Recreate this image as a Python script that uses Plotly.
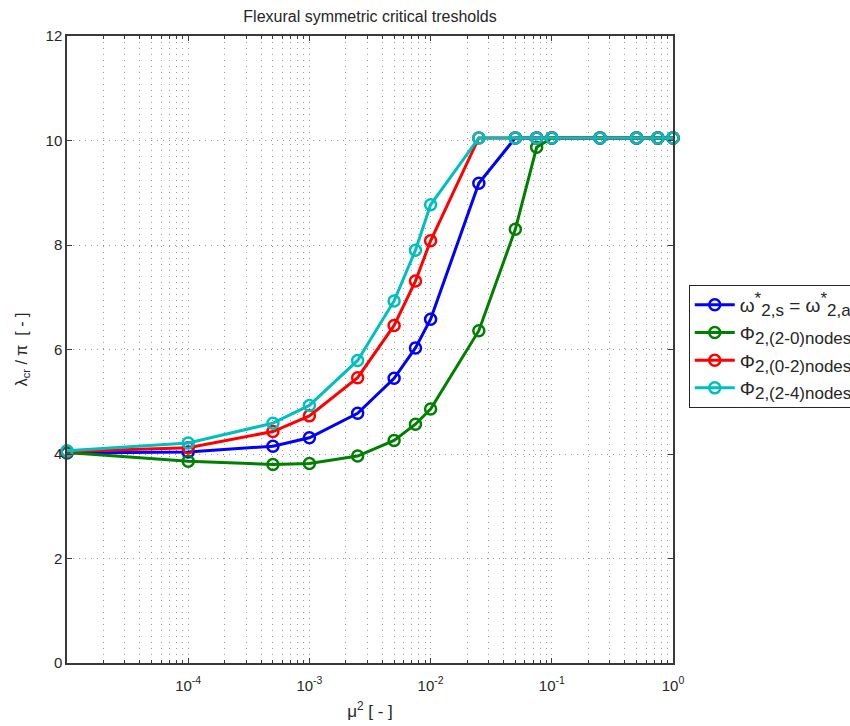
import plotly.graph_objects as go

# Non-dimensional stiffness parameter mu^2
mu2 = [1e-5, 1e-4, 5e-4, 1e-3, 2.5e-3, 5e-3, 7.5e-3, 1e-2, 2.5e-2,
       5e-2, 7.5e-2, 1e-1, 2.5e-1, 5e-1, 7.5e-1, 1.0]

# Critical thresholds lambda_cr / pi for each case
omega_s_a = [4.02, 4.04, 4.15, 4.31, 4.78, 5.45, 6.03, 6.58, 9.18,
             10.05, 10.05, 10.05, 10.05, 10.05, 10.05, 10.05]
phi_2_0 = [4.03, 3.86, 3.80, 3.82, 3.96, 4.26, 4.57, 4.86, 6.36,
           8.30, 9.87, 10.05, 10.05, 10.05, 10.05, 10.05]
phi_0_2 = [4.05, 4.12, 4.43, 4.73, 5.46, 6.46, 7.31, 8.08, 10.05,
           10.05, 10.05, 10.05, 10.05, 10.05, 10.05, 10.05]
phi_2_4 = [4.06, 4.21, 4.59, 4.93, 5.79, 6.93, 7.90, 8.77, 10.05,
           10.05, 10.05, 10.05, 10.05, 10.05, 10.05, 10.05]


def sub(s):
    return "<sub><span style='font-size:17px'>" + s + "</span></sub>"


def sup(s):
    return "<sup><span style='font-size:17px'>" + s + "</span></sup>"


series = [
    ("ω" + sup("*") + sub("2,s") + " = ω" + sup("*") + sub("2,a"), omega_s_a, "#0000ff"),
    ("Φ" + sub("2,(2-0)nodes"), phi_2_0, "#008000"),
    ("Φ" + sub("2,(0-2)nodes"), phi_0_2, "#ff0000"),
    ("Φ" + sub("2,(2-4)nodes"), phi_2_4, "#00bfbf"),
]

x_tickvals = [1e-4, 1e-3, 1e-2, 1e-1, 1.0]
x_ticktext = ["10<sup>-4</sup>", "10<sup>-3</sup>", "10<sup>-2</sup>",
              "10<sup>-1</sup>", "10<sup>0</sup>"]
x_minor = [k * 10.0 ** d for d in range(-5, 0) for k in range(2, 10)]

FONT = "Liberation Sans, Arial, Helvetica, sans-serif"
INK = "#262626"
GRID = "#9a9a9a"
DOTS = "1px,5px"

fig = go.Figure()
for name, vals, color in series:
    fig.add_trace(go.Scatter(
        x=mu2, y=vals, name=name, mode="lines+markers",
        line=dict(color=color, width=3),
        marker=dict(symbol="circle-open", size=11, color=color,
                    line=dict(color=color, width=2.5)),
        cliponaxis=False,
    ))

axis_common = dict(
    showline=True, linecolor="#3a3a3a", linewidth=1.5, mirror="allticks",
    ticks="inside", ticklen=5, tickcolor="#3a3a3a", tickwidth=1,
    showgrid=True, gridcolor=GRID, griddash=DOTS, gridwidth=1,
    zeroline=False, tickfont=dict(family=FONT, size=15, color=INK),
)

fig.update_xaxes(
    type="log", range=[-5, 0], tickmode="array",
    tickvals=x_tickvals, ticktext=x_ticktext, ticklabelstandoff=8,
    minor=dict(tickmode="array", tickvals=x_minor, ticks="inside",
               ticklen=3, tickcolor="#3a3a3a", showgrid=True,
               gridcolor=GRID, griddash=DOTS, gridwidth=1),
    title=dict(text="μ<sup>2</sup> [ - ]", font=dict(family=FONT, size=17, color=INK),
               standoff=12),
    **axis_common,
)
fig.update_yaxes(
    range=[0, 12], tickmode="linear", tick0=0, dtick=2,
    title=dict(text="λ<sub>cr</sub> / π  [ - ]", font=dict(family=FONT, size=16, color=INK),
               standoff=14),
    **axis_common,
)

fig.update_layout(
    width=850, height=726,
    paper_bgcolor="white", plot_bgcolor="white",
    margin=dict(l=67, r=177, t=36, b=63, autoexpand=False),
    title=dict(text="Flexural symmetric critical tresholds", x=0.5, xref="paper",
               xanchor="center", y=0.977, yanchor="middle",
               font=dict(family=FONT, size=16, color=INK)),
    showlegend=True,
    legend=dict(x=1.026, xanchor="left", y=0.603, yanchor="top",
                bgcolor="white", bordercolor=INK, borderwidth=1,
                font=dict(family=FONT, size=19, color=INK),
                itemwidth=40, tracegroupgap=0),
    font=dict(family=FONT),
)

fig.write_html("out.html")
